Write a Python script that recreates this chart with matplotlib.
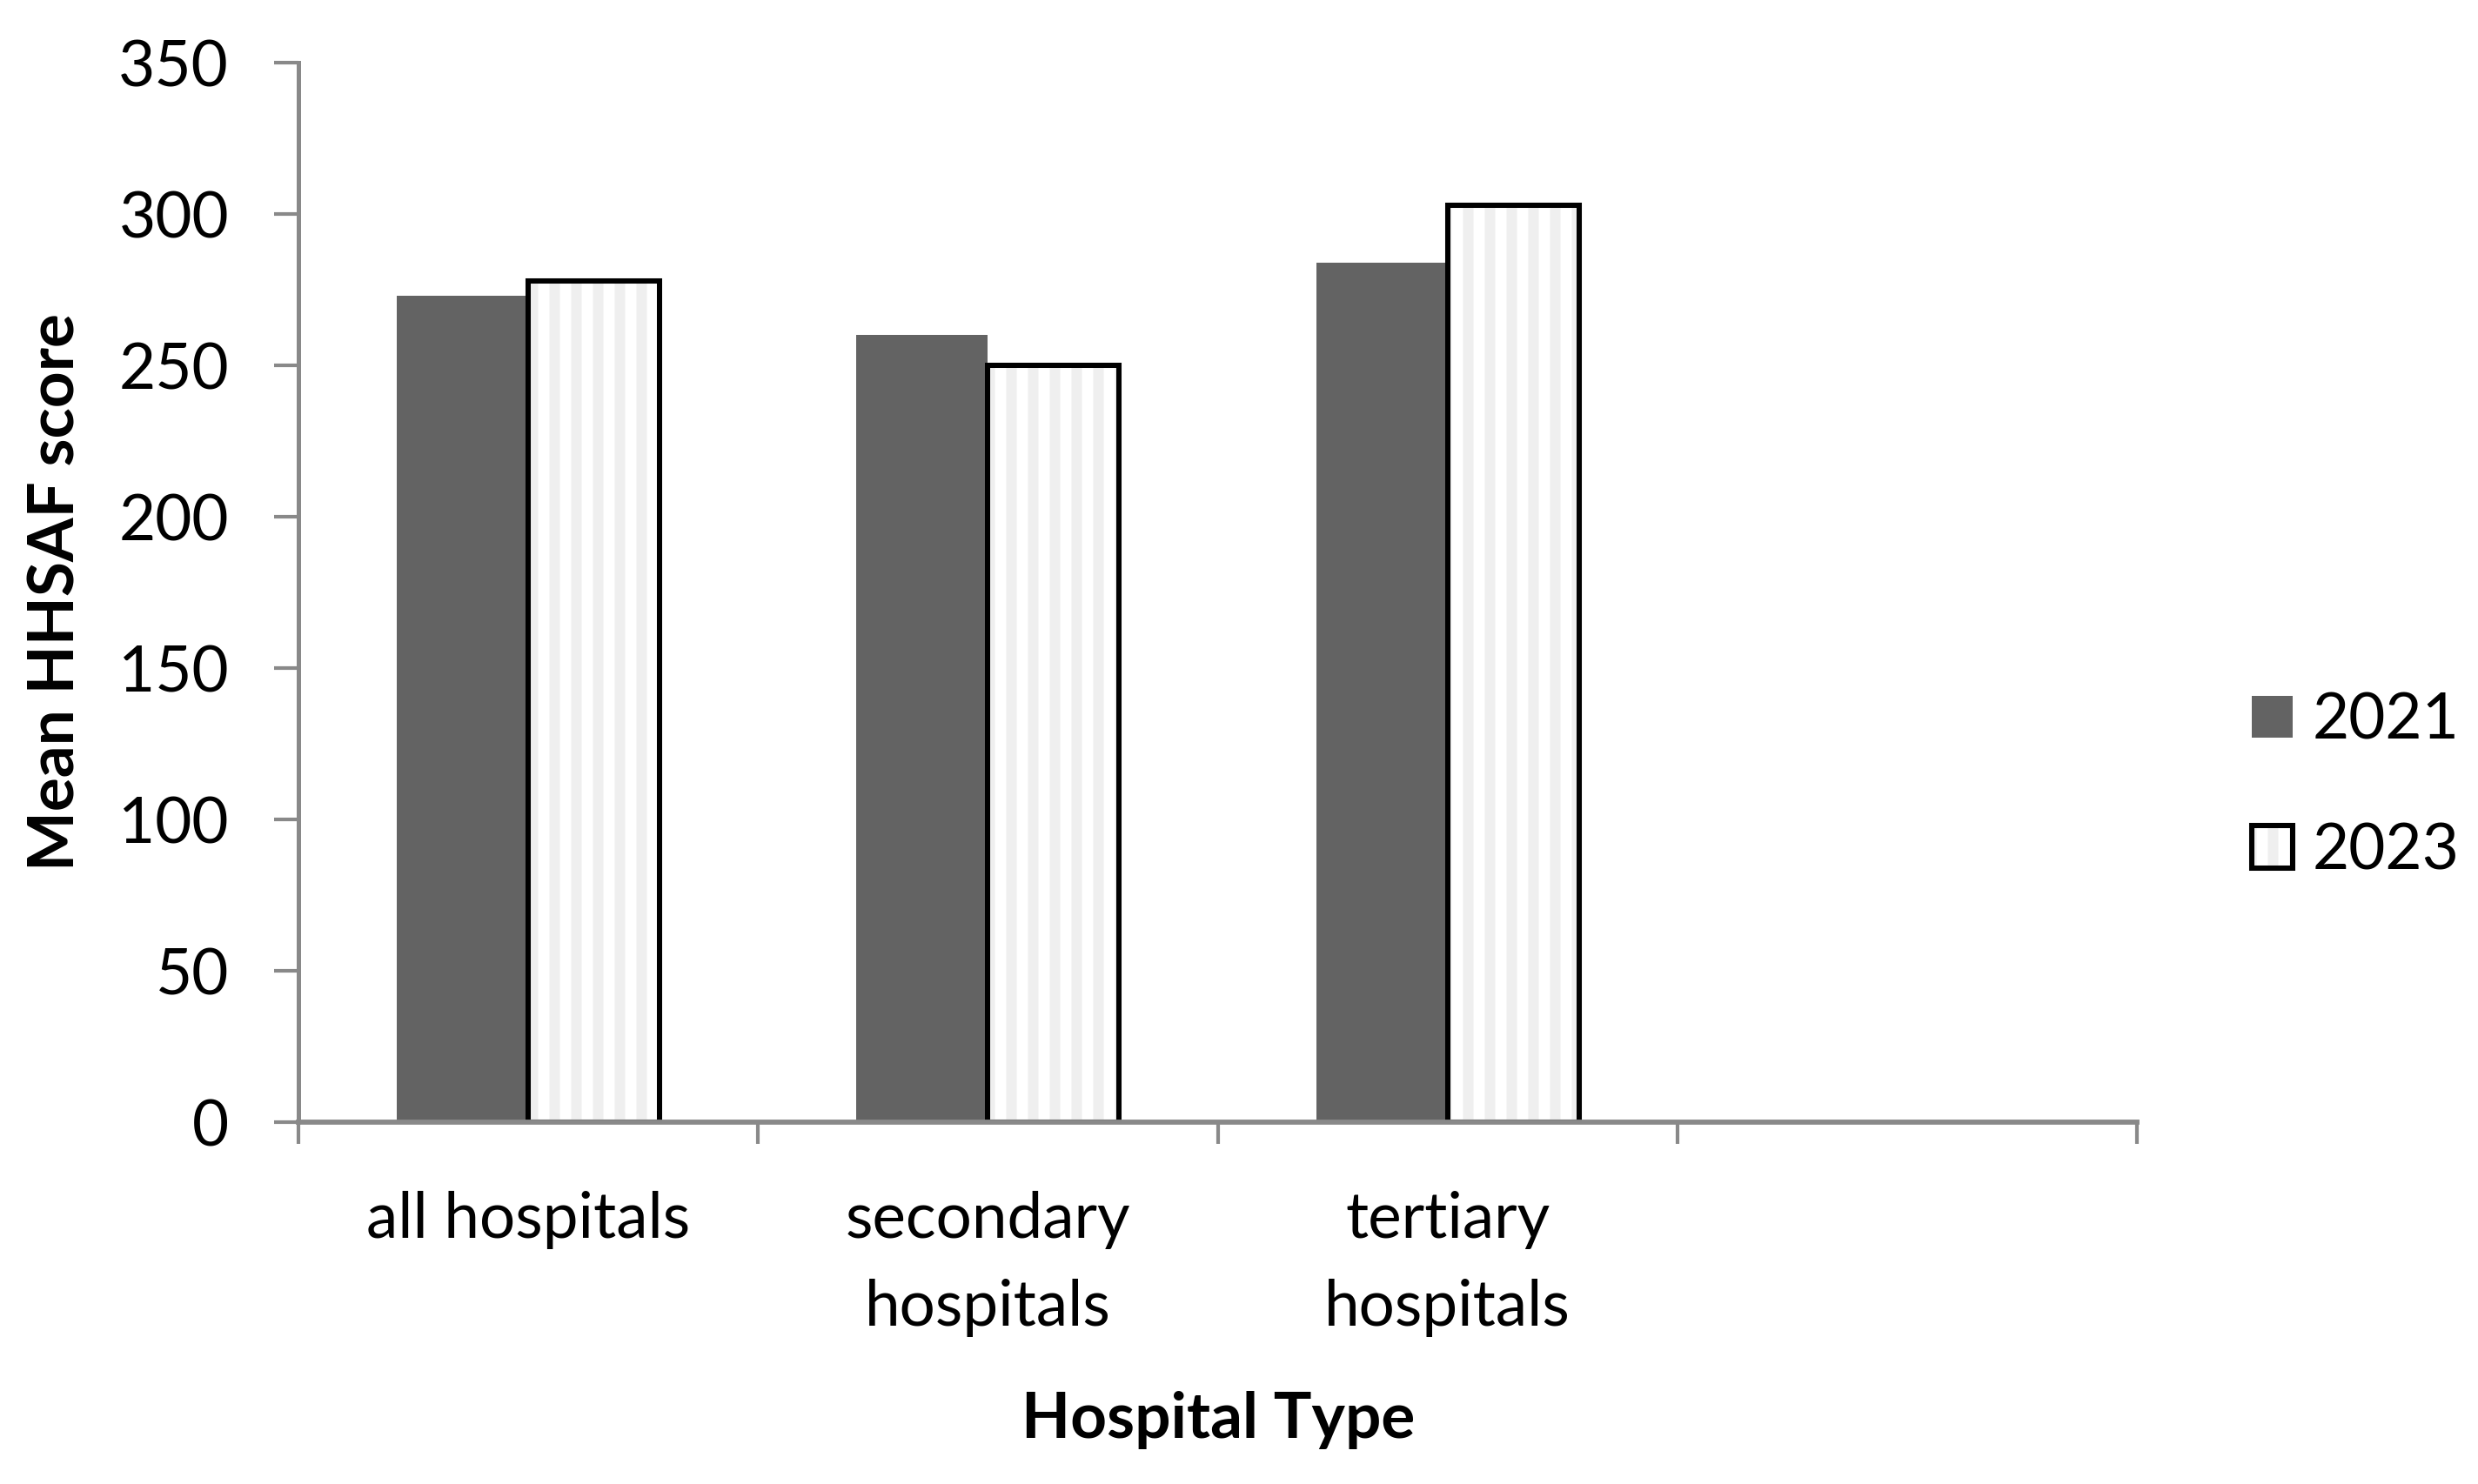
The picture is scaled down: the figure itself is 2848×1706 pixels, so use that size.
import matplotlib
matplotlib.use('Agg')
import matplotlib.pyplot as plt
import numpy as np

# data
categories = ['all hospitals', 'secondary\nhospitals', 'tertiary\nhospitals', '']
score_2021 = [273, 260, 284]
score_2023 = [278, 250, 303]
series = ['2021', '2023']

plt.rcParams['font.family'] = ['Lato', 'DejaVu Sans']
plt.rcParams['hatch.linewidth'] = 5.8

DPI = 150
FS = 35
dark = '#636363'
stripe = '#efefef'
axis_grey = '#898989'

fig = plt.figure(figsize=(2848 / DPI, 1706 / DPI), dpi=DPI)
ax = fig.add_axes([343 / 2848, 1 - 1290 / 1706, (2456 - 343) / 2848, (1290 - 72) / 1706])

n = len(categories)
w = 1 / 3.5
x = np.arange(len(score_2021))

ax.bar(x - w / 2, score_2021, w, color=dark, linewidth=0, label=series[0])
# striped fill, then black outline on top
ax.bar(x + w / 2, score_2023, w, color='white', edgecolor=stripe, hatch='|', linewidth=0)
ax.bar(x + w / 2, score_2023, w, fill=False, edgecolor='black', linewidth=2.9)

ax.set_xlim(-0.5, n - 0.5)
ax.set_ylim(0, 350)
ax.set_yticks(np.arange(0, 351, 50))

# category boundaries as major ticks, names as minor ticks
ax.set_xticks(np.arange(n + 1) - 0.5)
ax.set_xticklabels([])
ax.set_xticks(np.arange(n), categories, minor=True)
ax.tick_params(axis='x', which='minor', length=0, pad=38, labelsize=FS)
ax.tick_params(axis='x', which='major', length=12, width=2, color=axis_grey, direction='out')
ax.tick_params(axis='y', length=13.4, width=2, color=axis_grey, pad=25, labelsize=FS, direction='out')
for lab in ax.get_xticklabels(minor=True):
    lab.set_linespacing(1.63)

for s in ['top', 'right']:
    ax.spines[s].set_visible(False)
ax.spines['left'].set_color(axis_grey)
ax.spines['left'].set_linewidth(2.4)
ax.spines['bottom'].set_color(axis_grey)
ax.spines['bottom'].set_linewidth(2.8)

fig.text(65 / 2848, 1 - 681 / 1706, 'Mean HHSAF score', rotation=90, ha='center', va='center',
         fontsize=FS, fontweight='bold')
fig.text(1400 / 2848, 1 - 1653 / 1706, 'Hospital Type', ha='center', va='baseline',
         fontsize=FS, fontweight='bold')

# legend
h1 = plt.Rectangle((0, 0), 1, 1, color=dark, linewidth=0)
h2a = plt.Rectangle((0, 0), 1, 1, facecolor='white', edgecolor=stripe, hatch='|', linewidth=0)
h2b = plt.Rectangle((0, 0), 1, 1, fill=False, edgecolor='black', linewidth=2.9)
ax.legend([h1, (h2a, h2b)], series, loc='center left',
          bbox_to_anchor=(2588 / 2848, 1 - 904 / 1706), bbox_transform=fig.transFigure,
          frameon=False, fontsize=FS, handlelength=0.64, handleheight=0.64,
          handletextpad=0.31, labelspacing=1.13, borderpad=0, borderaxespad=0)

fig.savefig('out.png', dpi=DPI)
